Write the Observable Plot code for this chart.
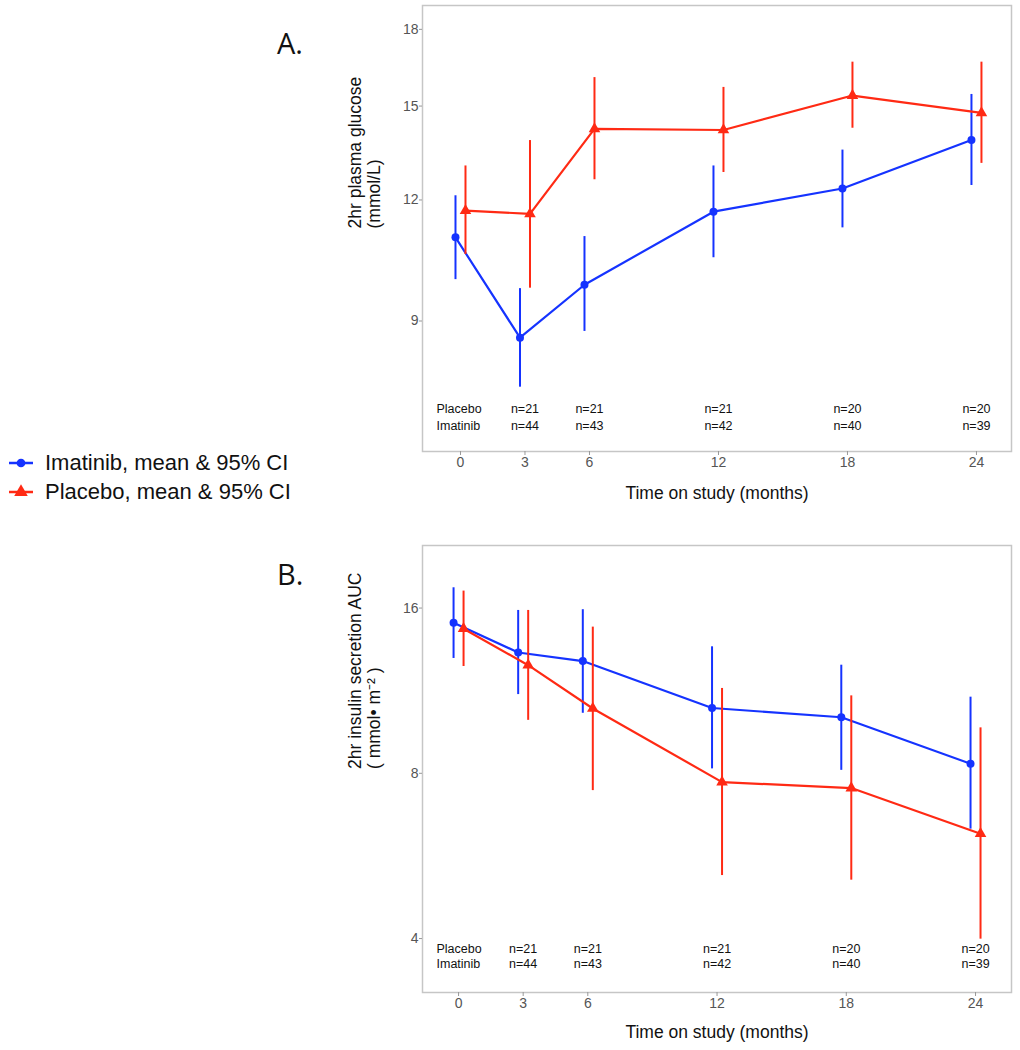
<!DOCTYPE html>
<html>
<head>
<meta charset="utf-8">
<script src="https://cdn.jsdelivr.net/npm/d3@7"></script>
<script src="https://cdn.jsdelivr.net/npm/@observablehq/plot@0.6"></script>
<style>
  body { margin: 0; background: #fff; font-family: "Liberation Sans", Arial, sans-serif; }
  #page { position: relative; width: 1020px; height: 1050px; overflow: hidden; background: #fff; }
  .panel { position: absolute; left: 0; z-index: 1; }
  .tag { position: absolute; z-index: 2; font-family: "Open Sans", "Liberation Sans", sans-serif; font-size: 29px; color: #111; }
  .legend { position: absolute; z-index: 2; left: 6px; top: 448px; font-size: 22px; color: #111; }
  .legend .row { display: flex; align-items: center; height: 29px; }
  .legend svg { margin-right: 9px; }
</style>
</head>
<body>
<div id="page">
  <div class="panel" id="panelA" style="top:0px;"></div>
  <div class="panel" id="panelB" style="top:540px;"></div>
  <div class="tag" style="left:277px; top:23px;">A.</div>
  <div class="tag" style="left:277px; top:554px;">B.</div>
  <div class="legend" id="legend"></div>
</div>
<script>
// ---- data ----
const months = [0, 3, 6, 12, 18, 24];
const nMonths = [3, 6, 12, 18, 24];
const nPlacebo = [21, 21, 21, 20, 20];
const nImatinib = [44, 43, 42, 40, 39];

// Panel A: 2hr plasma glucose (mmol/L)
const glucoseImatinib   = [10.98, 8.65, 9.81, 11.67, 12.33, 13.84];
const glucoseImatinibLo = [9.93, 7.69, 8.78, 10.46, 11.23, 12.42];
const glucoseImatinibHi = [12.12, 9.72, 11.00, 13.01, 13.51, 15.42];
const glucosePlacebo    = [11.70, 11.61, 14.21, 14.17, 15.38, 14.76];
const glucosePlaceboLo  = [10.54, 9.73, 12.59, 12.81, 14.23, 13.09];
const glucosePlaceboHi  = [13.01, 13.82, 16.05, 15.68, 16.65, 16.65];

// Panel B: 2hr insulin secretion AUC
const insulinImatinib   = [15.04, 13.28, 12.81, 10.52, 10.12, 8.33];
const insulinImatinibLo = [12.95, 11.13, 10.29, 8.15, 8.10, 6.33];
const insulinImatinibHi = [17.42, 15.84, 15.89, 13.60, 12.59, 11.01];
const insulinPlacebo    = [14.67, 12.59, 10.50, 7.71, 7.52, 6.21];
const insulinPlaceboLo  = [12.52, 9.99, 7.44, 5.21, 5.11, 3.99];
const insulinPlaceboHi  = [17.18, 15.84, 14.77, 11.42, 11.07, 9.68];

const glucoseTicks = [9, 12, 15, 18];
const insulinTicks = [4, 8, 16];

const BLUE = "#1533ff";
const RED = "#ff2a14";

function rows(mean, lo, hi) {
  return months.map((m, i) => ({month: m, mean: mean[i], lo: lo[i], hi: hi[i]}));
}

function panel({imatinib, placebo, height, marginBottom, xDomain, yDomain, yTicks, yLabel, nDy, xLabelDy}) {
  const series = [
    {data: imatinib, color: BLUE, symbol: "circle", r: 4, dx: -5},
    {data: placebo, color: RED, symbol: "triangle", r: 4.3, dx: 5}
  ];
  const marks = [Plot.frame({stroke: "#c6c6c6", strokeWidth: 1.5})];
  for (const s of series) {
    marks.push(
      Plot.ruleX(s.data, {x: "month", y1: "lo", y2: "hi", stroke: s.color, strokeWidth: 2, dx: s.dx}),
      Plot.line(s.data, {x: "month", y: "mean", stroke: s.color, strokeWidth: 2.2, dx: s.dx}),
      Plot.dot(s.data, {x: "month", y: "mean", fill: s.color, stroke: "none", symbol: s.symbol, r: s.r, dx: s.dx})
    );
  }
  marks.push(
    Plot.axisX({ticks: months, tickSize: 4, tickPadding: 2, stroke: "#999", fill: "#555", fontSize: 14, label: null}),
    Plot.axisY({ticks: yTicks, tickSize: 3, tickFormat: () => "", stroke: "#999", label: null}),
    Plot.text(yTicks, {y: d => d, text: d => String(d), frameAnchor: "left", textAnchor: "end", dx: -4, fontSize: 14, fill: "#555"}),
    Plot.text(["Placebo"], {frameAnchor: "bottom-left", textAnchor: "start", dx: 14, dy: nDy[0], fontSize: 12.5, fill: "#111"}),
    Plot.text(["Imatinib"], {frameAnchor: "bottom-left", textAnchor: "start", dx: 14, dy: nDy[1], fontSize: 12.5, fill: "#111"}),
    Plot.text(nMonths, {x: d => d, text: (d, i) => "n=" + nPlacebo[i], frameAnchor: "bottom", dy: nDy[0], fontSize: 12.5, fill: "#111"}),
    Plot.text(nMonths, {x: d => d, text: (d, i) => "n=" + nImatinib[i], frameAnchor: "bottom", dy: nDy[1], fontSize: 12.5, fill: "#111"}),
    Plot.text(["Time on study (months)"], {frameAnchor: "bottom", dy: xLabelDy, fontSize: 17.5, fill: "#111"}),
    Plot.text([yLabel], {frameAnchor: "left", rotate: -90, dx: -58, fontSize: 17.5, lineHeight: 1.05, fill: "#111"})
  );
  return Plot.plot({
    width: 1020,
    height,
    marginLeft: 422,
    marginRight: 9,
    marginTop: 5,
    marginBottom,
    style: {fontFamily: "'Liberation Sans', Arial, sans-serif", background: "transparent", overflow: "visible"},
    x: {domain: xDomain},
    y: {type: "log", domain: yDomain},
    marks
  });
}

document.getElementById("panelA").append(panel({
  imatinib: rows(glucoseImatinib, glucoseImatinibLo, glucoseImatinibHi),
  placebo: rows(glucosePlacebo, glucosePlaceboLo, glucosePlaceboHi),
  height: 530, marginBottom: 79,
  xDomain: [-1.767, 25.63], yDomain: [6.6, 19.05], yTicks: glucoseTicks,
  yLabel: "2hr plasma glucose\n(mmol/L)", nDy: [-39, -22], xLabelDy: 47
}));

document.getElementById("panelB").append(panel({
  imatinib: rows(insulinImatinib, insulinImatinibLo, insulinImatinibHi),
  placebo: rows(insulinPlacebo, insulinPlaceboLo, insulinPlaceboHi),
  height: 510, marginBottom: 58,
  xDomain: [-1.674, 25.67], yDomain: [3.19, 20.8], yTicks: insulinTicks,
  yLabel: "2hr insulin secretion AUC\n( mmol\u2022 m\u207B\u00B2 )", nDy: [-40, -25], xLabelDy: 45
}));

// legend
const legendItems = [
  {label: "Imatinib, mean & 95% CI", color: BLUE, symbol: d3.symbolCircle, size: 60},
  {label: "Placebo, mean & 95% CI", color: RED, symbol: d3.symbolTriangle, size: 80}
];
const legend = document.getElementById("legend");
for (const item of legendItems) {
  const row = document.createElement("div");
  row.className = "row";
  const svg = d3.create("svg").attr("width", 30).attr("height", 20);
  svg.append("line").attr("x1", 3).attr("x2", 27).attr("y1", 10).attr("y2", 10)
    .attr("stroke", item.color).attr("stroke-width", 2.5);
  svg.append("path").attr("d", d3.symbol(item.symbol, item.size)()).attr("transform", "translate(15,10)")
    .attr("fill", item.color);
  row.append(svg.node());
  const span = document.createElement("span");
  span.textContent = item.label;
  row.append(span);
  legend.append(row);
}
</script>
</body>
</html>
